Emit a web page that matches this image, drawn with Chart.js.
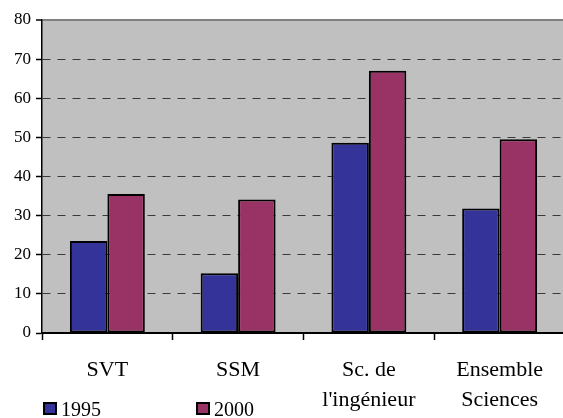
<!DOCTYPE html>
<html>
<head>
<meta charset="utf-8">
<script src="https://cdn.jsdelivr.net/npm/chart.js@4.4.1/dist/chart.umd.min.js"></script>
<style>
  html, body { margin: 0; padding: 0; background: #fff; overflow: hidden; }
  #wrap { position: relative; width: 563px; height: 418px; overflow: hidden; }
  #chart { position: absolute; left: 0; top: 0; }
  .leg { position: absolute; top: 399px; font: 20px "Liberation Serif", "Times New Roman", serif; color: #000; line-height: 20px; }
  .leg span.box { position: absolute; left: 0; top: 3px; width: 14px; height: 13px; box-sizing: border-box; border: 2px solid #000; }
  .leg span.txt { position: absolute; left: 18px; top: 0; white-space: nowrap; }
</style>
</head>
<body>
<div id="wrap">
  <canvas id="chart" width="570" height="418"></canvas>
  <div id="legend"></div>
</div>
<script>
// 데이터
const categories = ["SVT", "SSM", ["Sc. de", "l'ingénieur"], ["Ensemble", "Sciences"]];
const seriesNames = ["1995", "2000"];
const values1995 = [23.5, 15.3, 48.6, 31.8];
const values2000 = [35.5, 34.1, 67.0, 49.5];
const colors = ["#333399", "#993366"];
const legendX = [43, 196];

const serif = "'Liberation Serif', 'Times New Roman', serif";

// 회색 배경
const plotBackground = {
    id: "plotBackground",
    beforeDraw(chart) {
        const {ctx, chartArea: a} = chart;
        ctx.save();
        ctx.fillStyle = "#c0c0c0";
        ctx.fillRect(a.left, a.top, a.right - a.left, a.bottom - a.top);
        ctx.restore();
    }
};

const isTop = c => c.tick && c.tick.value === 80;

new Chart(document.querySelector("#chart"), {
    type: "bar",
    data: {
        labels: categories,
        datasets: [
            {label: seriesNames[0], data: values1995, backgroundColor: colors[0]},
            {label: seriesNames[1], data: values2000, backgroundColor: colors[1]},
        ].map(d => ({...d, borderColor: "#000", borderWidth: 2, borderSkipped: false,
                     categoryPercentage: 0.573, barPercentage: 1})),
    },
    options: {
        responsive: false,
        animation: false,
        layout: {padding: {left: 9, top: 20, right: 5, bottom: 0}},
        plugins: {legend: {display: false}, tooltip: {enabled: false}},
        scales: {
            x: {
                afterFit: s => { s.height = 85; }, // 축 아래 높이 고정
                grid: {drawOnChartArea: false, drawTicks: true, tickLength: 7, tickColor: "#000", tickWidth: 1.5},
                border: {color: "#000", width: 2},
                ticks: {color: "#000", padding: 15, font: {family: serif, size: 22, lineHeight: 1.38}},
            },
            y: {
                min: 0, max: 80,
                grid: {
                    color: c => isTop(c) ? "#808080" : "#3a3a3a",
                    lineWidth: c => isTop(c) ? 2 : 1,
                    tickBorderDash: [],
                    tickColor: "#000", tickWidth: 1.5, tickLength: 6,
                },
                border: {color: "#000", width: 1.5, dash: c => isTop(c) ? [] : [8, 7]},
                ticks: {stepSize: 10, color: "#000", padding: 5, font: {family: serif, size: 17}},
            },
        },
    },
    plugins: [plotBackground],
});

// 범례
const legend = document.querySelector("#legend");
seriesNames.forEach((name, i) => {
    const item = document.createElement("div");
    item.className = "leg";
    item.style.left = legendX[i] + "px";
    item.innerHTML = `<span class="box" style="background:${colors[i]}"></span><span class="txt">${name}</span>`;
    legend.appendChild(item);
});
</script>
</body>
</html>
